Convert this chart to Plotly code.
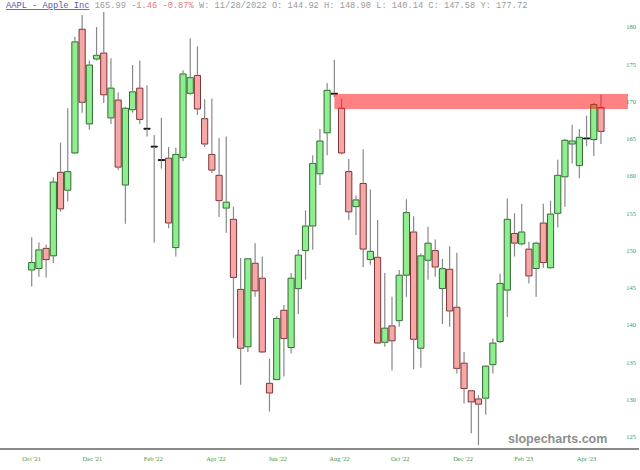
import plotly.graph_objects as go
import pandas as pd

# ---- data (weekly AAPL candles) ----
weeks = pd.date_range("2021-10-25", periods=80, freq="7D")

open_ = [147.4, 147.6, 150.3, 149.3, 160.5, 158.1, 163.1, 179.7, 167.0, 175.7,
         176.5, 167.8, 170.2, 158.8, 168.9, 171.8, 166.4, 164.0, 162.2, 162.4,
         150.4, 162.5, 171.1, 173.5, 167.7, 162.9, 160.1, 155.7, 154.2, 144.8,
         137.1, 148.3, 146.3, 132.2, 132.7, 142.0, 137.0, 144.9, 150.0, 153.3,
         160.3, 165.8, 171.1, 169.1, 160.6, 155.9, 159.0, 148.8, 149.1, 137.7,
         139.9, 140.6, 146.7, 152.5, 136.9, 148.7, 150.0, 144.92, 147.5, 142.4,
         134.9, 131.2, 130.1, 130.2, 134.7, 137.8, 144.7, 152.3, 150.9, 150.2,
         147.6, 153.7, 147.7, 155.0, 159.9, 164.3, 161.4, 165.1, 164.9, 169.2]
high = [151.8, 151.1, 150.8, 159.8, 164.5, 169.1, 178.7, 181.6, 175.5, 180.0,
        182.0, 175.8, 171.2, 169.3, 174.9, 175.5, 172.2, 165.5, 167.8, 163.9,
        163.8, 174.2, 178.5, 177.4, 170.3, 170.4, 165.1, 165.3, 155.9, 149.0,
        149.0, 151.0, 149.2, 135.5, 141.2, 142.7, 147.0, 150.1, 155.4, 162.8,
        166.3, 172.5, 175.6, 170.4, 162.3, 157.4, 163.6, 158.2, 154.1, 147.0,
        143.8, 147.4, 156.9, 154.6, 149.6, 153.2, 151.5, 148.90, 150.6, 149.7,
        136.4, 131.3, 130.6, 134.6, 138.2, 146.9, 157.0, 155.0, 156.3, 151.2,
        151.2, 156.3, 156.7, 162.2, 165.0, 166.9, 166.3, 168.1, 169.8, 170.9]
low = [145.2, 146.5, 146.4, 148.3, 155.2, 156.6, 163.0, 168.5, 166.2, 175.5,
       169.8, 167.0, 160.8, 153.6, 168.5, 167.0, 165.3, 151.1, 161.0, 153.0,
       149.2, 162.0, 170.9, 168.2, 163.9, 160.4, 154.5, 152.4, 138.3, 132.0,
       136.4, 143.8, 136.3, 128.4, 132.6, 133.1, 136.2, 141.5, 146.1, 150.1,
       158.8, 162.8, 170.6, 162.9, 154.1, 152.1, 147.8, 148.1, 137.5, 137.1,
       133.9, 139.8, 143.8, 134.1, 134.3, 146.1, 146.5, 140.14, 139.8, 133.5,
       129.5, 125.5, 123.9, 128.0, 133.5, 137.6, 141.1, 149.2, 150.7, 145.6,
       143.8, 147.7, 147.6, 153.1, 155.9, 161.7, 159.7, 164.0, 162.7, 164.3]
close = [148.4, 150.1, 148.8, 159.2, 155.6, 160.6, 178.0, 169.9, 174.9, 176.2,
         170.9, 171.8, 161.2, 169.1, 171.3, 167.6, 166.3, 163.9, 162.1, 153.7,
         162.9, 173.7, 173.2, 169.0, 164.3, 160.8, 156.7, 156.5, 146.4, 136.9,
         148.9, 144.6, 136.4, 130.9, 140.9, 138.2, 146.3, 149.4, 153.3, 161.7,
         164.7, 171.5, 171.0, 163.1, 155.2, 156.8, 150.2, 149.9, 137.6, 139.6,
         137.9, 146.7, 155.1, 138.1, 149.3, 151.0, 147.8, 147.58, 141.9, 134.2,
         131.5, 129.7, 129.4, 134.5, 137.6, 145.6, 154.2, 151.0, 152.5, 146.6,
         151.0, 148.4, 154.9, 160.1, 164.8, 164.7, 165.2, 165.0, 169.6, 165.99]

tick_dates = ["2021-10-25", "2021-12-23", "2022-02-20", "2022-04-22", "2022-06-21",
              "2022-08-20", "2022-10-18", "2022-12-18", "2023-02-15", "2023-04-17"]
tick_text = ["Oct '21", "Dec '21", "Feb '22", "Apr '22", "Jun '22",
             "Aug '22", "Oct '22", "Dec '22", "Feb '23", "Apr '23"]
y_ticks = [125, 130, 135, 140, 145, 150, 155, 160, 165, 170, 175, 180]

zone_start = "2022-08-15"
zone_low, zone_high = 169.0, 171.0

# ---- geometry helpers ----
W, H = 640, 470
MR, MB = 1, 22
plot_w = W - MR
px_per_day = 7.206 / 7.0
first_px = 31.7
t0 = weeks[0]
def px_to_date(px):
    return t0 + pd.Timedelta(days=(px - first_px) / px_per_day)

x_range = [px_to_date(0), px_to_date(plot_w)]
zone_end = px_to_date(628)

# ---- wicks ----
wx, wy = [], []
for d, o, h, l, c in zip(weeks, open_, high, low, close):
    top, bot = max(o, c), min(o, c)
    if h > top:
        wx += [d, d, None]; wy += [top, h, None]
    if l < bot:
        wx += [d, d, None]; wy += [l, bot, None]

# ---- bodies ----
base, height, fills, lines = [], [], [], []
for o, c in zip(open_, close):
    b = min(o, c)
    hgt = abs(c - o)
    if hgt < 0.15:
        fills.append("#111111"); lines.append("#111111")
        hgt = 0.12
        b = (o + c) / 2 - 0.06
    elif c > o:
        fills.append("#90ee90"); lines.append("#2f6b2f")
    else:
        fills.append("#f6a8a8"); lines.append("#7d3434")
    base.append(b); height.append(hgt)

fig = go.Figure()
fig.add_trace(go.Scatter(x=wx, y=wy, mode="lines",
                         line=dict(color="#888888", width=1.2),
                         hoverinfo="skip"))
fig.add_trace(go.Bar(x=weeks, y=height, base=base,
                     width=6.0 * 86400000,
                     marker=dict(color=fills, line=dict(color=lines, width=1)),
                     hoverinfo="skip"))

fig.add_shape(type="rect", xref="x", yref="y",
              x0=zone_start, x1=zone_end, y0=zone_low, y1=zone_high,
              fillcolor="rgba(255,25,25,0.55)", line=dict(width=0), layer="above")

header = ("<span style='color:#5656b0'><u>AAPL - Apple Inc</u></span>"
          "<span style='color:#9a9a9a'> 165.99</span>"
          "<span style='color:#e27a7a'> -1.46 -0.87%</span>"
          "<span style='color:#9a9a9a'> W: 11/28/2022 O: 144.92 H: 148.90 "
          "L: 140.14 C: 147.58 Y: 177.72</span>")
fig.add_annotation(text=header, xref="paper", yref="paper", x=0, y=1,
                   xanchor="left", yanchor="top", xshift=4, yshift=1,
                   showarrow=False,
                   font=dict(family="Liberation Mono", size=8.7, color="#9a9a9a"))
fig.add_annotation(text="<b>slopecharts.com</b>", xref="paper", yref="paper",
                   x=609 / plot_w, y=(448 - 439) / 448, xanchor="right",
                   yanchor="middle", showarrow=False,
                   font=dict(family="Liberation Sans", size=12.5, color="#8e8e8e"))

tick_font = dict(family="Liberation Serif", size=6.5, color="#3f993f")
fig.update_layout(
    width=W, height=H,
    margin=dict(l=0, r=MR, t=0, b=MB),
    paper_bgcolor="white", plot_bgcolor="white",
    showlegend=False, hovermode=False,
    xaxis=dict(type="date", range=x_range, tickvals=tick_dates, ticktext=tick_text,
               showgrid=False, zeroline=False, showline=True, linecolor="#8a8a8a",
               linewidth=1.5, ticks="", ticklabelstandoff=3, tickfont=tick_font,
               fixedrange=True),
    yaxis=dict(side="right", range=[123.52, 183.62], tickvals=y_ticks,
               ticklabelposition="inside", showgrid=False, zeroline=False,
               showline=False, ticks="", tickfont=tick_font, fixedrange=True),
)

fig.write_html("out.html")
